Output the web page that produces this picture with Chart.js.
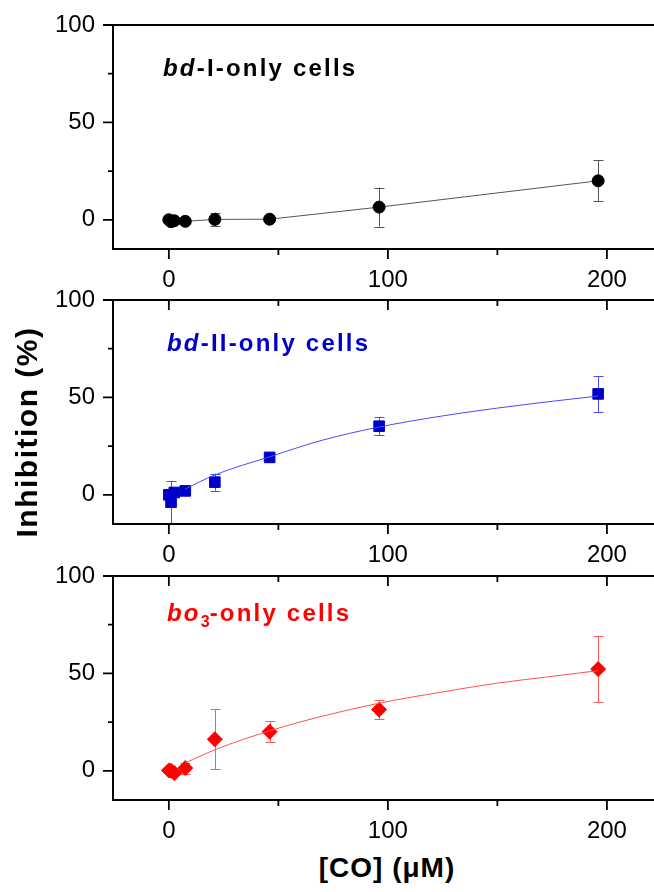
<!DOCTYPE html>
<html>
<head>
<meta charset="utf-8">
<script src="https://cdn.jsdelivr.net/npm/chart.js@4.4.1/dist/chart.umd.min.js"></script>
<style>
  html, body { margin: 0; padding: 0; background: #fff; overflow: hidden; }
  body { width: 654px; height: 892px; position: relative; font-family: "Liberation Sans", Arial, sans-serif; }
  .painel { position: absolute; left: 0; width: 654px; height: 289px; }
  .titulo { position: absolute; font-size: 24px; font-weight: bold; letter-spacing: 2.2px; line-height: 24px; white-space: nowrap; }
  .titulo sub { font-size: 16px; vertical-align: -6px; line-height: 0; letter-spacing: 0; }
  #eixoY { position: absolute; left: -123px; top: 416px; width: 300px; text-align: center; font-size: 30px; font-weight: bold; letter-spacing: 1.5px; line-height: 32px; transform: rotate(-90deg); }
  #eixoX { position: absolute; left: 237px; top: 852px; width: 300px; text-align: center; font-size: 28px; font-weight: bold; letter-spacing: 1px; line-height: 32px; }
</style>
</head>
<body>

<div class="painel" style="top:0px"><canvas id="grafico1" width="654" height="289"></canvas></div>
<div class="painel" style="top:275px"><canvas id="grafico2" width="654" height="289"></canvas></div>
<div class="painel" style="top:551px"><canvas id="grafico3" width="654" height="289"></canvas></div>

<div class="titulo" style="left:163px; top:56px; color:#000"><i>bd</i>-I-only cells</div>
<div class="titulo" style="left:167px; top:331px; color:#0000c8"><i>bd</i>-II-only cells</div>
<div class="titulo" style="left:167px; top:601px; color:#ff0000"><i>bo</i><sub>3</sub>-only cells</div>

<div id="eixoY">Inhibition (%)</div>
<div id="eixoX">[CO] (μM)</div>

<script>
// concentracao de CO (uM)
const concCO = [0, 1, 2.5, 7.5, 21, 46, 96, 196];

// bd-I-only
const inibBdI = [0, -1, -0.5, -0.8, 0.2, 0.3, 6.5, 20];
const erroBdI = [0.5, 1.5, 1.5, 1, 3.5, 0.5, 10, 10.5];

// bd-II-only
const inibBdII = [0, -3.8, 1.2, 2.0, 6.5, 19.2, 35.2, 51.8];
const erroBdII = [0.5, 10.7, 1, 1, 4.4, 2, 4.5, 9.2];

// bo3-only
const inibBo3 = [0.2, 0, -1.2, 1.4, 16.2, 20.1, 31.4, 52.2];
const erroBo3 = [0.5, 0.5, 1, 2.8, 15.5, 5.4, 4.9, 17];

// curvas de ajuste
const ajusteX = [7.5, 21, 46, 70, 96, 125, 150, 175, 196];
const ajusteBdII = [3, 10.2, 19.5, 28, 34.8, 40.5, 44.5, 48, 50.7];
const ajusteBo3 = [4, 10.8, 20.5, 28, 34.7, 40.5, 45, 48.5, 51.4];

// ticks dos eixos
const ticksX = [0, 50, 100, 150, 200];
const rotulosX = [0, 100, 200];
const ticksY = [0, 25, 50, 75, 100];
const rotulosY = [0, 50, 100];

function pares(xs, ys) {
  return xs.map(function(x, i) { return { x: x, y: ys[i] }; });
}

// barras de erro desenhadas com as escalas do grafico
const barrasErro = {
  id: 'barrasErro',
  beforeDatasetsDraw: function(chart) {
    const ctx = chart.ctx;
    const area = chart.chartArea;
    const sx = chart.scales.x, sy = chart.scales.y;
    ctx.save();
    ctx.beginPath();
    ctx.rect(area.left, area.top, area.right - area.left, area.bottom - area.top);
    ctx.clip();
    chart.data.datasets.forEach(function(ds) {
      if (!ds.erros) return;
      ctx.strokeStyle = ds.corErro;
      ctx.lineWidth = 1;
      ds.data.forEach(function(p, i) {
        const e = ds.erros[i];
        const px = Math.round(sx.getPixelForValue(p.x)) + 0.5;
        const y1 = sy.getPixelForValue(p.y + e);
        const y2 = sy.getPixelForValue(p.y - e);
        ctx.beginPath();
        ctx.moveTo(px, y1); ctx.lineTo(px, y2);
        ctx.moveTo(px - 5, Math.round(y1) + 0.5); ctx.lineTo(px + 5, Math.round(y1) + 0.5);
        ctx.moveTo(px - 5, Math.round(y2) + 0.5); ctx.lineTo(px + 5, Math.round(y2) + 0.5);
        ctx.stroke();
      });
    });
    ctx.restore();
  }
};

// moldura e marcas dos eixos
const moldura = {
  id: 'moldura',
  afterDraw: function(chart) {
    const ctx = chart.ctx;
    const a = chart.chartArea;
    const sx = chart.scales.x, sy = chart.scales.y;
    const ticksTopo = chart.options.plugins.moldura.ticksTopo;
    ctx.save();
    ctx.strokeStyle = '#000';
    ctx.lineWidth = 2;
    ctx.beginPath();
    ctx.moveTo(a.left, a.top); ctx.lineTo(a.right, a.top);
    ctx.moveTo(a.left, a.top - 1); ctx.lineTo(a.left, a.bottom + 1);
    ctx.moveTo(a.left - 1, a.bottom); ctx.lineTo(a.right, a.bottom);
    ctx.stroke();

    ctx.lineWidth = 1.8;
    ctx.beginPath();
    ticksX.forEach(function(v) {
      const px = sx.getPixelForValue(v);
      const len = rotulosX.indexOf(v) >= 0 ? 10 : 6;
      ctx.moveTo(px, a.bottom); ctx.lineTo(px, a.bottom + len);
      if (ticksTopo) { ctx.moveTo(px, a.top); ctx.lineTo(px, a.top + len); }
    });
    ticksY.forEach(function(v) {
      const py = sy.getPixelForValue(v);
      const len = rotulosY.indexOf(v) >= 0 ? 10 : 5;
      ctx.moveTo(a.left, py); ctx.lineTo(a.left - len, py);
    });
    ctx.stroke();
    ctx.restore();
  }
};

function criarPainel(id, datasets, ticksTopo) {
  const fonte = { family: '"Liberation Sans", Arial, sans-serif', size: 24 };
  return new Chart(document.getElementById(id), {
    type: 'scatter',
    data: { datasets: datasets },
    options: {
      responsive: false,
      animation: false,
      layout: { autoPadding: false, padding: { top: 25, left: 0, right: 0, bottom: 0 } },
      plugins: {
        legend: { display: false },
        tooltip: { enabled: false },
        moldura: { ticksTopo: ticksTopo }
      },
      scales: {
        x: {
          type: 'linear',
          min: -25.5,
          max: 221.5,
          grid: { display: false, drawTicks: false },
          border: { display: false },
          afterBuildTicks: function(s) { s.ticks = ticksX.map(function(v) { return { value: v }; }); },
          afterFit: function(s) { s.height = 40; s.paddingLeft = 0; s.paddingRight = 0; },
          ticks: {
            autoSkip: false,
            maxRotation: 0,
            padding: 17,
            color: '#000',
            font: fonte,
            callback: function(v) { return rotulosX.indexOf(v) >= 0 ? String(v) : ''; }
          }
        },
        y: {
          min: -15,
          max: 100,
          grid: { display: false, drawTicks: false },
          border: { display: false },
          afterBuildTicks: function(s) { s.ticks = ticksY.map(function(v) { return { value: v }; }); },
          afterFit: function(s) { s.width = 113; s.paddingTop = 0; s.paddingBottom = 0; },
          ticks: {
            autoSkip: false,
            padding: 18,
            color: '#000',
            font: fonte,
            callback: function(v) { return rotulosY.indexOf(v) >= 0 ? String(v) : ''; }
          }
        }
      }
    },
    plugins: [barrasErro, moldura]
  });
}

// painel 1: bd-I
criarPainel('grafico1', [{
  data: pares(concCO, inibBdI),
  erros: erroBdI,
  corErro: '#555555',
  showLine: true,
  borderColor: '#555555',
  borderWidth: 1,
  pointStyle: 'circle',
  pointRadius: 6,
  pointBackgroundColor: '#000',
  pointBorderColor: '#000',
  pointBorderWidth: 1
}], false);

// painel 2: bd-II
criarPainel('grafico2', [{
  data: pares(ajusteX, ajusteBdII),
  showLine: true,
  cubicInterpolationMode: 'monotone',
  borderColor: '#4a4aff',
  borderWidth: 1,
  pointRadius: 0
}, {
  data: pares(concCO, inibBdII),
  erros: erroBdII,
  corErro: '#4a4aff',
  showLine: false,
  pointStyle: 'rect',
  pointRadius: 7.5,
  pointBackgroundColor: '#0000c8',
  pointBorderColor: '#0000c8',
  pointBorderWidth: 1
}], true);

// painel 3: bo3
criarPainel('grafico3', [{
  data: pares(ajusteX, ajusteBo3),
  showLine: true,
  cubicInterpolationMode: 'monotone',
  borderColor: '#ff5050',
  borderWidth: 1,
  pointRadius: 0
}, {
  data: pares(concCO, inibBo3),
  erros: erroBo3,
  corErro: '#ff5a5a',
  showLine: false,
  pointStyle: 'rectRot',
  pointRadius: 7.5,
  pointBackgroundColor: '#ff0000',
  pointBorderColor: '#ff0000',
  pointBorderWidth: 1
}], true);
</script>
</body>
</html>
